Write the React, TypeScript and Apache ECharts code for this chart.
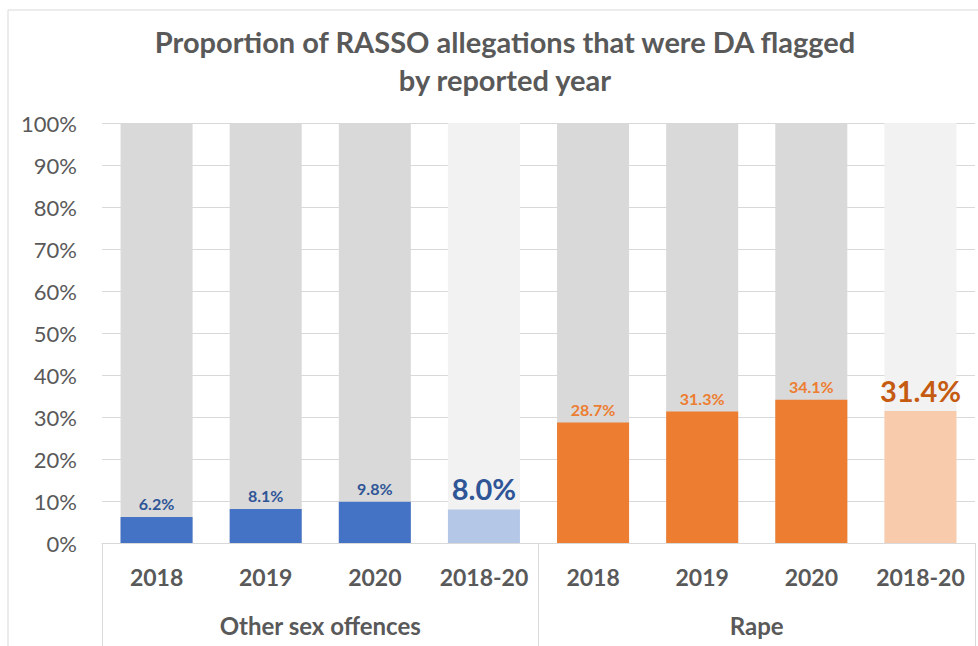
import React, { useEffect, useRef } from "react";
import * as echarts from "echarts";

const categories = ["2018", "2019", "2020", "2018-20", "2018", "2019", "2020", "2018-20"];
const groups = ["Other sex offences", "Rape"];
const values = [6.2, 8.1, 9.8, 8.0, 28.7, 31.3, 34.1, 31.4];
const totals = [100, 100, 100, 100, 100, 100, 100, 100];
const isCombined = [false, false, false, true, false, false, false, true];
const groupOf = [0, 0, 0, 0, 1, 1, 1, 1];

const FONT = "Lato";
const TEXT = "#595959";
const barColors = [
  ["#4472c4", "#b4c7e7"],
  ["#ed7d31", "#f8cbad"],
];
const labelColors = [
  ["#2f5597", "#2f5597"],
  ["#ed7d31", "#c55a11"],
];

export default function App() {
  const ref = useRef<HTMLDivElement>(null);
  useEffect(() => {
    const chart = echarts.init(ref.current!, null, { renderer: "svg" });
    chart.setOption({
      animation: false,
      backgroundColor: "#ffffff",
      title: {
        text: "Proportion of RASSO allegations that were DA flagged\nby reported year",
        left: 500,
        top: 17,
        textAlign: "center",
        textStyle: {
          fontFamily: FONT,
          fontWeight: "bold",
          fontSize: 29,
          color: TEXT,
          lineHeight: 38,
        },
      },
      graphic: [
        {
          type: "rect",
          shape: { x: 8, y: 10, width: 1000, height: 700 },
          style: { fill: "none", stroke: "#d9d9d9", lineWidth: 1 },
          silent: true,
        },
      ],
      grid: { left: 102, right: 3, top: 123, bottom: 103 },
      xAxis: [
        {
          type: "category",
          data: categories,
          axisLine: { show: true, lineStyle: { color: "#d9d9d9", width: 1 } },
          axisTick: { show: false },
          axisLabel: {
            fontFamily: FONT,
            fontWeight: "bold",
            fontSize: 23,
            color: TEXT,
            margin: 22,
            interval: 0,
          },
        },
        {
          type: "category",
          data: groups,
          position: "bottom",
          axisLine: { show: false },
          axisTick: { show: true, length: 110, lineStyle: { color: "#d9d9d9", width: 1 } },
          axisLabel: {
            fontFamily: FONT,
            fontWeight: "bold",
            fontSize: 24,
            color: TEXT,
            margin: 70,
          },
        },
      ],
      yAxis: {
        type: "value",
        min: 0,
        max: 100,
        interval: 10,
        axisLine: { show: false },
        axisTick: { show: false },
        axisLabel: {
          formatter: "{value}%",
          fontFamily: FONT,
          fontSize: 22,
          color: TEXT,
          margin: 25,
        },
        splitLine: { lineStyle: { color: "#d9d9d9", width: 1 } },
      },
      series: [
        {
          type: "bar",
          xAxisIndex: 0,
          silent: true,
          barWidth: "66%",
          barGap: "-100%",
          data: totals.map((v, i) => ({
            value: v,
            itemStyle: { color: isCombined[i] ? "#f2f2f2" : "#d9d9d9" },
          })),
          z: 1,
        },
        {
          type: "bar",
          xAxisIndex: 0,
          barWidth: "66%",
          barGap: "-100%",
          z: 2,
          data: values.map((v, i) => {
            const g = groupOf[i];
            const c = isCombined[i] ? 1 : 0;
            return {
              value: v,
              itemStyle: { color: barColors[g][c] },
              label: {
                show: true,
                position: "top",
                distance: isCombined[i] ? 6 : 5,
                formatter: (p: any) => `${Number(p.value).toFixed(1)}%`,
                fontFamily: FONT,
                fontWeight: "bold",
                fontSize: isCombined[i] ? 29 : 16,
                color: labelColors[g][c],
              },
            };
          }),
        },
      ],
    });
    return () => chart.dispose();
  }, []);
  return (
    <div
      ref={ref}
      style={{ position: "absolute", left: 0, top: 0, width: 978, height: 646 }}
    />
  );
}
